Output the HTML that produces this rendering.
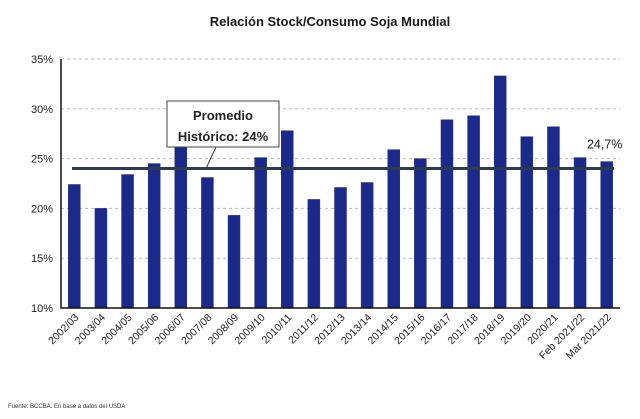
<!DOCTYPE html>
<html><head><meta charset="utf-8"><style>
body{margin:0;background:#fff;width:640px;height:414px;overflow:hidden;font-family:"Liberation Sans",sans-serif}
</style></head><body>
<svg id="chart" width="640" height="414" xmlns="http://www.w3.org/2000/svg">
<text x="330" y="26" text-anchor="middle" font-size="13" font-weight="bold" fill="#1a1a1a">Relación Stock/Consumo Soja Mundial</text>
<g id="grid"></g><g id="bars"></g><g id="yt"></g><g id="xt"></g>
<text x="8" y="408" font-size="6" fill="#333">Fuente: BCCBA. En base a datos del USDA</text>
</svg>
<script>
const categories=["2002/03","2003/04","2004/05","2005/06","2006/07","2007/08","2008/09","2009/10","2010/11","2011/12","2012/13","2013/14","2014/15","2015/16","2016/17","2017/18","2018/19","2019/20","2020/21","Feb 2021/22","Mar 2021/22"];
const values=[22.4,20.0,23.4,24.5,27.8,23.1,19.3,25.1,27.8,20.9,22.1,22.6,25.9,25.0,28.9,29.3,33.3,27.2,28.2,25.1,24.7];
const yTicks=[10,15,20,25,30,35];
const average=[24];
const ns="http://www.w3.org/2000/svg";
const x0=61,x1=620,yMin=10,yMax=35,py0=308,py1=59;
const step=(x1-x0)/categories.length;
const X=i=>x0+step*(i+0.5);
const Y=v=>py0-(v-yMin)/(yMax-yMin)*(py0-py1);
function mk(t,a,p){const e=document.createElementNS(ns,t);for(const k in a)e.setAttribute(k,a[k]);(p||document.getElementById('chart')).appendChild(e);return e;}
const g=document.getElementById('grid'),b=document.getElementById('bars'),yt=document.getElementById('yt'),xt=document.getElementById('xt');
yTicks.forEach(v=>{
 if(v>yMin){const l=mk('line',{x1:x0,x2:x1,y1:Y(v),y2:Y(v),stroke:'#bbb','stroke-dasharray':'3,3','stroke-width':1},g);
 
 }
 const t=mk('text',{x:x0-8,y:Y(v)+4,'text-anchor':'end','font-size':11,fill:'#222'},yt);t.textContent=v+'%';
 
 
});
values.forEach((v,i)=>{
 const r=mk('rect',{x:X(i)-6,y:Y(v),width:12,height:py0-Y(v),fill:'#1a2a8c',stroke:'#2a3570','stroke-width':0.5},b);
 
 
 const t=mk('text',{x:0,y:0,'text-anchor':'end','font-size':10.5,fill:'#222',transform:`translate(${X(i)+5},${py0+10}) rotate(-45)`},xt);t.textContent=categories[i];
 
 
});
const ax=mk('path',{d:`M${x0},${py1}V${py0}H${x1}`,fill:'none',stroke:'#111','stroke-width':1.5});


const av=mk('line',{x1:72,x2:x1-6,y1:Y(average[0]),y2:Y(average[0]),stroke:'#2f3b4f','stroke-width':3});


const ld=mk('line',{x1:206,y1:Y(average[0]),x2:216,y2:147,stroke:'#333','stroke-width':1});


const bx=mk('rect',{x:167,y:101,width:112,height:46,fill:'#fff',stroke:'#444','stroke-width':1});


[["Promedio",120],["Histórico: "+average[0]+"%",141]].forEach(([s,y])=>{const t=mk('text',{x:223,y:y,'text-anchor':'middle','font-size':13,'font-weight':'bold',fill:'#222'});t.textContent=s;
 
 });
const last=values.length-1;
const lt=mk('text',{x:X(last)-2,y:Y(values[last])-13,'text-anchor':'middle','font-size':12.5,fill:'#222'});lt.textContent=String(values[last]).replace('.',',')+'%';


</script>
</body></html>
